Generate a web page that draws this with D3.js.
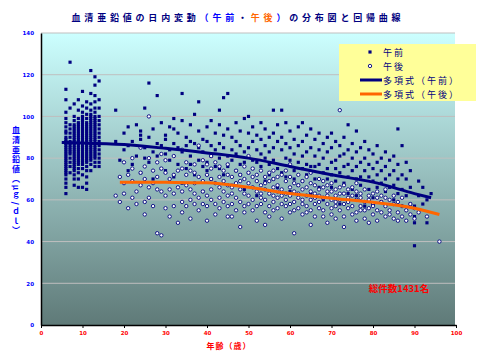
<!DOCTYPE html>
<html>
<head>
<meta charset="utf-8">
<script src="https://cdn.jsdelivr.net/npm/d3@7"></script>
<style>
  body { margin: 0; background: #fff; }
  svg { display: block; font-family: "Noto Sans CJK JP", sans-serif; }
</style>
</head>
<body>
<script>
  var width = 479;
  var height = 359;

  // 午前 (AM) : [age, [values]]
  var amData = [
    [6, [113,108,102,99,97,95,93,92,90,89,88,87,86,85,84,83,82,81,80,79,78,77,76,75,74,73,72,70,68,66,63]],
    [7, [126,104,96,94,92,90,88,87,86,85,84,83,82,80,78,76,73]],
    [8, [106,100,98,96,95,94,93,92,91,90,89,88,87,86,85,84,83,82,81,80,79,78,77,76,75,74,72,70,67]],
    [9, [108,103,99,97,96,95,94,93,92,91,90,89,88,87,86,85,84,83,82,81,80,79,78,77,75,73,70,66]],
    [10, [112,105,102,100,99,98,97,96,95,94,93,92,91,90,89,88,87,86,85,84,83,82,81,80,79,78,77,75,72,66]],
    [11, [107,104,101,99,97,96,95,94,93,92,91,90,89,88,87,86,85,84,83,82,81,80,79,78,76,74,71,68,65]],
    [12, [122,111,106,103,101,100,99,98,97,96,95,94,93,92,91,90,89,88,87,86,85,84,83,82,81,80,79,77,74]],
    [13, [119,115,110,107,104,102,100,99,98,97,96,95,94,93,92,91,90,89,88,87,86,85,84,83,82,81,80,78,76]],
    [14, [117,108,104,100,98,96,94,92,90,88,86,84,82,80,78,76]],
    [18, [103,88]], [19, [79]], [20, [92,84]], [21, [86,95,74]], [22, [88,77]],
    [23, [96,81]], [24, [93,89,91,73]], [25, [104,85,80]], [26, [116,90,78]],
    [27, [94,83,70]], [28, [110,87,81]], [29, [97,86,75]], [30, [91,89,82,74]],
    [31, [95,79,84]], [32, [99,94,87,71]], [33, [92,85,77]], [34, [111,98,83,68]],
    [35, [90,86,75]], [36, [96,81,88,77]], [37, [101,87,72]], [38, [107,93,85,79]],
    [39, [83,89,76,64]], [40, [95,78,88,74]], [41, [98,86,81,70]], [42, [92,84,76]],
    [43, [103,96,87,80,75]], [44, [109,91,85,72]], [45, [111,94,81,76]], [46, [90,84,79,67]],
    [47, [97,88,82,74]], [48, [93,86,77,72]], [49, [99,83,78,65]], [50, [100,92,85,73]],
    [51, [95,88,79,75]], [52, [91,84,78,62]], [53, [97,82,89,76]], [54, [94,86,80,69]],
    [55, [90,83,77,72]], [56, [103,92,85,79,70]], [57, [96,88,75,66]], [58, [103,90,84,73]],
    [59, [97,87,80,71]], [60, [93,85,79,64]], [61, [89,82,74,70]], [62, [95,86,78,67]],
    [63, [97,88,81,75,69]], [64, [91,83,77,72]], [65, [94,85,76,63]], [66, [89,81,76,70]],
    [67, [92,84,77,66]], [68, [87,80,73,60]], [69, [90,83,75,70]], [70, [92,85,78,72,66]],
    [71, [88,79,75,69]], [72, [86,81,73,58]], [73, [90,82,76,68]], [74, [96,84,77,71,63]],
    [75, [87,80,74,65]], [76, [93,83,76,70,62]], [77, [85,78,71,67]], [78, [88,80,74,57]],
    [79, [84,77,71,65]], [80, [82,75,69,61]], [81, [86,78,72,66]], [82, [80,74,68,59]],
    [83, [83,76,70,64]], [84, [79,72,66]], [85, [81,74,67,60]], [86, [94,77,70,63]],
    [87, [86,72,65]], [88, [78,70,62]], [89, [74,66,58]], [90, [52,49,57,38]],
    [91, [69,62]], [92, [66,58]], [93, [49,60]], [94, [63]]
  ];

  // 午後 (PM)
  var pmData = [
    [18, [62]], [19, [59,71]], [20, [63,68,78]], [21, [72,56]], [22, [61,69,75,80]],
    [23, [64,58]], [24, [73,67,85]], [25, [70,59,76,53]], [26, [100,66,61,80]],
    [27, [68,74,57]], [28, [44,71,65,78]], [29, [43,64,75,82]], [30, [73,62,56,79]],
    [31, [70,65,52]], [32, [72,63,57,81]], [33, [49,66,74]], [34, [75,64,59,84,54]],
    [35, [72,67,78,57]], [36, [65,60,74,51]], [37, [73,68,58,77,63]], [38, [71,61,55,86]],
    [39, [69,64,79,58]], [40, [72,62,57,77,50]], [41, [70,65,75,81,60]], [42, [68,58,78,53]],
    [43, [71,66,61,76,56]], [44, [69,74,64,59]], [45, [72,62,57,77,52,67]], [46, [71,58,66,52,63]],
    [47, [74,61,68,55]], [48, [65,59,72,47,69]], [49, [70,57,63,76,54]], [50, [62,68,73,58,81]],
    [51, [66,60,75,55,71]], [52, [64,69,57,72,50]], [53, [67,61,74,58,63]], [54, [60,65,71,54,48,68]],
    [55, [63,57,69,73,52]], [56, [66,59,62,74,55,70]], [57, [61,67,56,71,64]], [58, [65,58,72,51,62]],
    [59, [63,69,57,60,74]], [60, [58,66,71,54,62,77]], [61, [44,64,59,68,55]], [62, [61,67,56,72,63]],
    [63, [65,58,69,53,60]], [64, [62,57,71,66,54]], [65, [60,64,55,68,48,73]], [66, [63,58,67,52,61]],
    [67, [59,65,56,70,62]], [68, [61,55,66,52,69]], [69, [64,58,62,49,67]], [70, [60,56,68,53,64]],
    [71, [62,57,65,51,59]], [72, [103,60,55,66,63]], [73, [58,63,52,67,47]], [74, [61,56,65,59]],
    [75, [57,62,53,66]], [76, [60,54,64,50,68]], [77, [63,57,61,55]], [78, [59,55,65,51]],
    [79, [62,56,49,60]], [80, [58,53,63,57]], [81, [55,61,50,64]], [82, [59,54,62]],
    [83, [57,52,61,65]], [84, [55,60,53]], [85, [58,51,62]], [86, [54,59,50]],
    [87, [57,52,61]], [88, [55,50]], [89, [53,58]], [90, [56,51]], [91, [54]], [93, [52]], [96, [40]]
  ];

  // 多項式 trend lines
  var amFitAges = [5, 10, 20, 30, 40, 50, 60, 70, 80, 90, 94];
  var amFitVals = [87.5, 87.3, 86.5, 84.7, 82.5, 80, 76, 72, 68.5, 63, 61];
  var pmFitAges = [19, 30, 40, 50, 60, 70, 80, 90, 96];
  var pmFitVals = [68.5, 68.4, 68.2, 66, 63, 60.8, 58.8, 56, 53];

  var xTicks = [0, 10, 20, 30, 40, 50, 60, 70, 80, 90, 100];
  var yTicks = [0, 20, 40, 60, 80, 100, 120, 140];
  var legendLabels = ['午前', '午後', '多項式（午前）', '多項式（午後）'];

  var svg = d3.select('body').append('svg')
    .attr('width', width)
    .attr('height', height);

  // scales
  var xScale = d3.scaleLinear().domain([0, 100]).range([41, 456]);
  var yScale = d3.scaleLinear().domain([0, 140]).range([325, 33]);

  // plot background gradient
  var grad = svg.append('defs').append('linearGradient')
    .attr('id', 'bg').attr('x1', 0).attr('y1', 0).attr('x2', 0).attr('y2', 1);
  grad.append('stop').attr('offset', '0%').attr('stop-color', '#ccffff');
  grad.append('stop').attr('offset', '100%').attr('stop-color', '#5f7a78');

  svg.append('rect')
    .attr('x', xScale(0)).attr('y', yScale(140))
    .attr('width', 455 - xScale(0)).attr('height', yScale(0) - yScale(140))
    .attr('fill', 'url(#bg)');

  // gridlines
  svg.append('g').selectAll('line')
    .data(yTicks.filter(d => d > 0))
    .enter().append('line')
    .attr('x1', xScale(0)).attr('x2', 455)
    .attr('y1', d => yScale(d)).attr('y2', d => yScale(d))
    .attr('stroke', '#bfbfbf').attr('stroke-width', 1);

  // axes
  var xAxis = svg.append('g')
    .attr('transform', 'translate(0,' + yScale(0) + ')')
    .call(d3.axisBottom(xScale).tickValues(xTicks).tickSize(3).tickSizeOuter(0).tickPadding(3));
  xAxis.select('.domain').attr('stroke', '#000').attr('stroke-width', 1.5);
  xAxis.selectAll('.tick line').attr('stroke', '#000');
  xAxis.selectAll('text').attr('fill', '#ff0000').attr('font-size', 5.5).attr('font-weight', 'bold')
    .attr('font-family', 'DejaVu Sans');

  var yAxis = svg.append('g')
    .attr('transform', 'translate(' + xScale(0) + ',0)')
    .call(d3.axisLeft(yScale).tickValues(yTicks).tickSize(0).tickPadding(7));
  yAxis.select('.domain').attr('stroke', '#000').attr('stroke-width', 1.5);
  yAxis.selectAll('text').attr('fill', '#0000ff').attr('font-size', 5.5).attr('font-weight', 'bold')
    .attr('font-family', 'DejaVu Sans');

  // flatten points
  var amPoints = [];
  amData.forEach(function(d) { d[1].forEach(function(v) { amPoints.push({age: d[0], val: v}); }); });
  var pmPoints = [];
  pmData.forEach(function(d) { d[1].forEach(function(v) { pmPoints.push({age: d[0], val: v}); }); });

  var square = d3.symbol().type(d3.symbolSquare).size(10);

  svg.append('g').selectAll('path')
    .data(amPoints)
    .enter().append('path')
    .attr('d', square)
    .attr('transform', d => 'translate(' + xScale(d.age) + ',' + yScale(d.val) + ')')
    .attr('fill', '#000080');

  svg.append('g').selectAll('circle')
    .data(pmPoints)
    .enter().append('circle')
    .attr('cx', d => xScale(d.age))
    .attr('cy', d => yScale(d.val))
    .attr('r', 1.7)
    .attr('fill', '#fff')
    .attr('stroke', '#000080')
    .attr('stroke-width', 0.9);

  // trend lines
  var line = d3.line()
    .x(d => xScale(d[0]))
    .y(d => yScale(d[1]))
    .curve(d3.curveMonotoneX);

  svg.append('path')
    .attr('d', line(amFitAges.map((a, i) => [a, amFitVals[i]])))
    .attr('fill', 'none').attr('stroke', '#000080').attr('stroke-width', 3);

  svg.append('path')
    .attr('d', line(pmFitAges.map((a, i) => [a, pmFitVals[i]])))
    .attr('fill', 'none').attr('stroke', '#ff6600').attr('stroke-width', 3);

  // title
  var title = svg.append('text')
    .attr('x', 238).attr('y', 21)
    .attr('text-anchor', 'middle')
    .attr('font-size', 9).attr('font-weight', 'bold')
    .attr('letter-spacing', 3.8)
    .attr('fill', '#000080');
  title.append('tspan').text('血清亜鉛値の日内変動');
  title.append('tspan').attr('fill', '#0000ff').text('（午前');
  title.append('tspan').text('・');
  title.append('tspan').attr('fill', '#ff6600').text('午後');
  title.append('tspan').attr('fill', '#0000ff').text('）');
  title.append('tspan').text('の分布図と回帰曲線');

  // axis titles
  svg.append('text')
    .attr('x', 16).attr('y', 126)
    .attr('writing-mode', 'vertical-rl')
    .attr('font-size', 8).attr('font-weight', 'bold')
    .attr('letter-spacing', 1.8)
    .attr('fill', '#0000ff')
    .text('血清亜鉛値（μｇ/ｄｌ）');

  svg.append('text')
    .attr('x', 229).attr('y', 349)
    .attr('text-anchor', 'middle')
    .attr('font-size', 8).attr('font-weight', 'bold')
    .attr('letter-spacing', 1)
    .attr('fill', '#ff0000')
    .text('年齢（歳）');

  // annotation
  svg.append('text')
    .attr('x', 399).attr('y', 292)
    .attr('text-anchor', 'middle')
    .attr('font-size', 9.5).attr('font-weight', 'bold')
    .attr('fill', '#ff0000')
    .text('総件数1431名');

  // legend
  var legend = svg.append('g').attr('transform', 'translate(339,44)');
  legend.append('rect')
    .attr('width', 137).attr('height', 57)
    .attr('fill', '#ffff99');

  var rows = legend.selectAll('g.row')
    .data(legendLabels)
    .enter().append('g')
    .attr('class', 'row')
    .attr('transform', (d, i) => 'translate(0,' + (8 + i * 14) + ')');

  rows.append('text')
    .attr('x', 44).attr('y', 3.5)
    .attr('font-size', 9)
    .attr('letter-spacing', 2)
    .attr('fill', '#000080')
    .text(d => d);

  rows.filter((d, i) => i === 0).append('path')
    .attr('d', square).attr('transform', 'translate(31,0)').attr('fill', '#000080');
  rows.filter((d, i) => i === 1).append('circle')
    .attr('cx', 31).attr('r', 1.7).attr('fill', '#fff')
    .attr('stroke', '#000080').attr('stroke-width', 0.9);
  rows.filter((d, i) => i >= 2).append('line')
    .attr('x1', 21).attr('x2', 43)
    .attr('stroke', (d, i) => i === 0 ? '#000080' : '#ff6600')
    .attr('stroke-width', 3);
</script>
</body>
</html>
